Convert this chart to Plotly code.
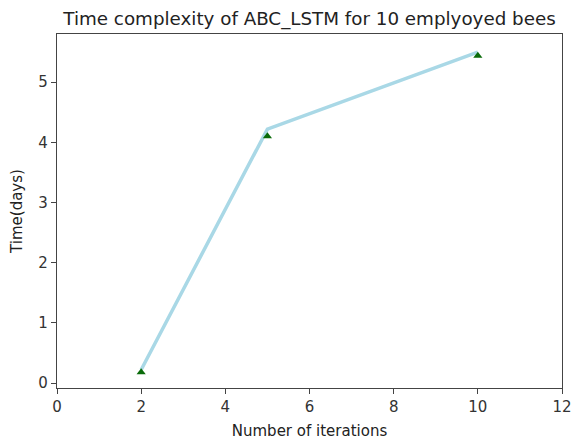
import plotly.graph_objects as go

iterations = [2, 5, 10]
line_time = [0.22, 4.22, 5.5]
marker_time = [0.18, 4.1, 5.44]
x_ticks = [0, 2, 4, 6, 8, 10, 12]
y_ticks = [0, 1, 2, 3, 4, 5]

fig = go.Figure()
fig.add_trace(go.Scatter(x=iterations, y=line_time, mode="lines",
                         line=dict(color="#a9d8e6", width=3.5), showlegend=False))
fig.add_trace(go.Scatter(x=iterations, y=marker_time, mode="markers",
                         marker=dict(symbol="triangle-up", color="#0a6b0a", size=8),
                         showlegend=False))

font = "DejaVu Sans, sans-serif"
axis_common = dict(showgrid=False, zeroline=False, showline=True, linecolor="#444",
                   linewidth=1.2, mirror=True, ticks="outside", ticklen=5,
                   tickcolor="#444", automargin=False, ticklabeloverflow="allow",
                   tickfont=dict(family=font, size=15, color="#333"))
fig.update_layout(
    width=571, height=441,
    margin=dict(l=57, r=9, t=34, b=53),
    paper_bgcolor="white", plot_bgcolor="white",
    title=dict(text="Time complexity of ABC_LSTM for 10 emplyoyed bees",
               x=0.5, xref="paper", xanchor="center", y=1 - 19 / 441, yanchor="middle",
               font=dict(family=font, size=18.3, color="#222")),
    xaxis=dict(range=[0, 12], tickvals=x_ticks,
               title=dict(text="Number of iterations", standoff=10,
                          font=dict(family=font, size=15, color="#222")),
               **axis_common),
    yaxis=dict(range=[-0.083, 5.8], tickvals=y_ticks,
               title=dict(text="Time(days)", standoff=12,
                          font=dict(family=font, size=15, color="#222")),
               **axis_common),
)
fig.write_html("out.html", config={"displayModeBar": False},
               post_script="document.body.style.margin='0';document.body.style.overflow='hidden';")
